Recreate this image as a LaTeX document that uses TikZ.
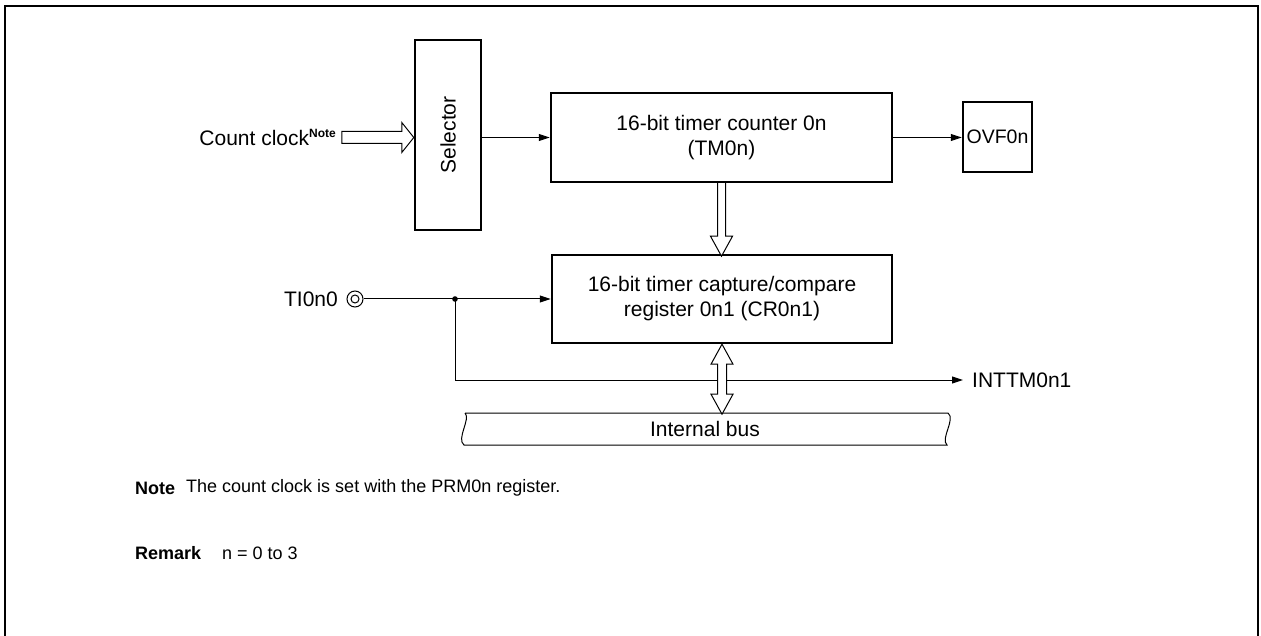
\documentclass[tikz,border=0pt]{standalone}
\usepackage{fontspec}
\setmainfont{Liberation Sans}
\usetikzlibrary{arrows.meta,calc}
\begin{document}
\begin{tikzpicture}[x=1pt,y=-1pt,
  font=\fontsize{21}{25}\selectfont,
  blk/.style={draw,line width=2.4pt,inner sep=0pt,align=center},
  lbl/.style={inner sep=0pt},
  notefont/.style={font=\fontsize{18}{22}\selectfont},
  wire/.style={line width=1pt},
  arr/.style={wire,-{Triangle[length=11pt,width=7pt]}},
  hollow/.style={draw,line width=1pt,fill=white,line join=miter}]
\useasboundingbox (0,0) rectangle (1261,636);
\draw[line width=2.5pt] (5,660) -- (5,6) -- (1258,6) -- (1258,660);

% blocks
\node[blk,minimum width=66pt,minimum height=190pt] (sel) at (448,135) {};
\node[lbl,rotate=90] (seltxt) at (sel.center) {Selector};
\node[blk,minimum width=341pt,minimum height=89pt] (tm) at (721.5,137.5) {16-bit timer counter 0n\\(TM0n)};
\node[blk,minimum width=69pt,minimum height=70pt,font=\fontsize{19.5}{24}\selectfont] (ovf) at (997.5,137) {OVF0n};
\node[blk,minimum width=340pt,minimum height=88pt] (cr) at (722,299) {16-bit timer capture/compare\\register 0n1 (CR0n1)};

% count clock input
\node[lbl,anchor=east] (cc) at (336,137) {Count clock\raisebox{8pt}{\fontsize{12}{12}\selectfont\bfseries Note}};
\draw[hollow,shift={(sel.west|-tm.west)}] (-72,-6) -- (-12,-6) -- (-12,-15) -- (0,0) -- (-12,15) -- (-12,6) -- (-72,6) -- cycle;

\draw[arr] (sel.east|-tm.west) -- (tm.west);
\draw[arr] (tm.east) -- (ovf.west|-tm.east);

% TM -> CR hollow arrow
\draw[hollow,shift={(tm.south)}] (-4,0) -- (-4,53) -- (-11,53) -- (0,73) -- (11,53) -- (4,53) -- (4,0);

% TI0n0 input
\node[lbl,anchor=east] (ti) at (338,299) {TI0n0};
\node[circle,draw,line width=1pt,minimum size=16pt,inner sep=0pt] (pin) at (355,299) {};
\node[circle,draw,line width=1pt,minimum size=8pt,inner sep=0pt] (pinin) at (pin.center) {};
\coordinate (jn) at (455,299);
\draw[arr] (pin.east) -- (cr.west);
\fill (jn) circle (2.8);
\node[lbl,anchor=west] (int) at (972,380) {INTTM0n1};
\coordinate (intend) at (963,380);
\draw[arr] (jn) |- (intend);

% internal bus
\draw[line width=1pt] (465,413) -- (948,413) .. controls (956,419) and (940,439) .. (947,445)
  -- (464,445) .. controls (456,439) and (471,419) .. (465,413);
\node[lbl] (bus) at (705,429) {Internal bus};

% CR <-> bus double hollow arrow
\draw[hollow,shift={(cr.south)}] (0,0) -- (11,20) -- (4.5,20) -- (4.5,50) -- (11,50) -- (0,70) -- (-11,50) -- (-4.5,50) -- (-4.5,20) -- (-11,20) -- cycle;

% notes
\node[lbl,notefont,anchor=west] (note) at (135,488) {\bfseries Note};
\node[lbl,notefont,anchor=west] (notetxt) at (186,488) {The count clock is set with the PRM0n register.};
\node[lbl,notefont,anchor=west] (rem) at (135,553) {\bfseries Remark};
\node[lbl,notefont,anchor=west] (remtxt) at (222,553) {n = 0 to 3};
\end{tikzpicture}
\end{document}
